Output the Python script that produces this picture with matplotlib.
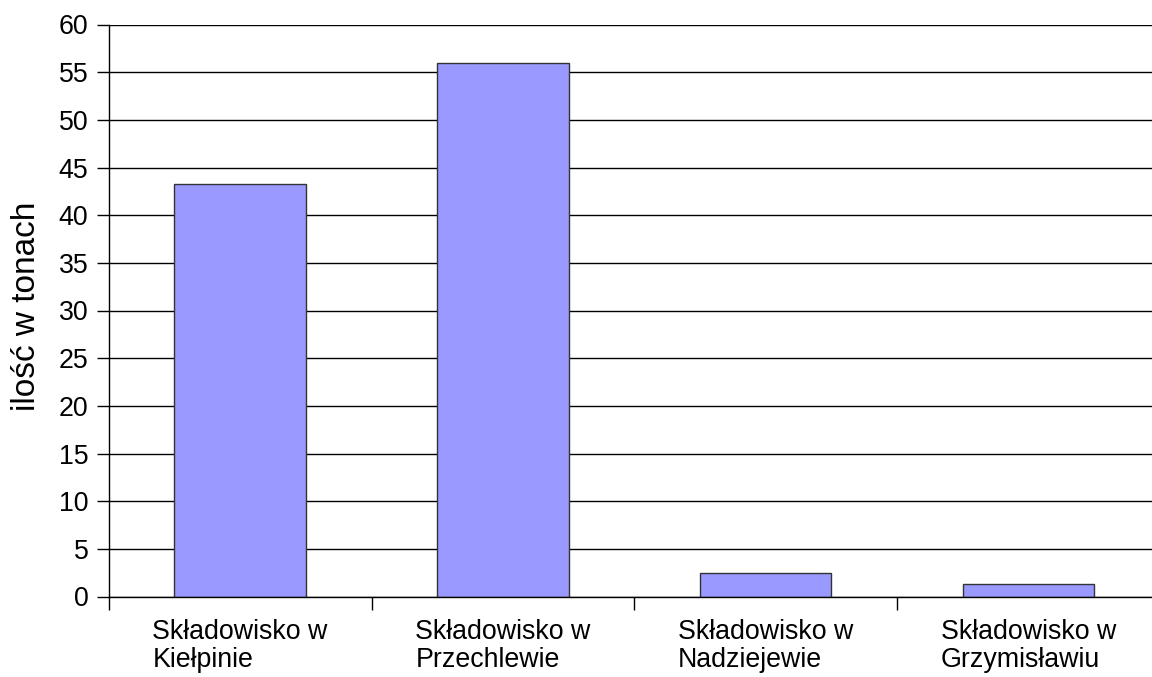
import matplotlib
matplotlib.use("Agg")
import matplotlib.pyplot as plt
import numpy as np

categories = ["Składowisko w\nKiełpinie", "Składowisko w\nPrzechlewie",
              "Składowisko w\nNadziejewie", "Składowisko w\nGrzymisławiu"]
values = [43.3, 56.0, 2.5, 1.3]
yticks = list(range(0, 61, 5))
ylabel = "ilość w tonach"

plt.rcParams['font.family'] = ['Liberation Sans', 'DejaVu Sans']

fig = plt.figure(figsize=(11.52, 6.77), dpi=100)
ax = fig.add_axes([108.7/1152, 80.5/677, (1160-108.7)/1152, (596.5-24.5)/677])

x = np.arange(len(categories))
ax.bar(x, values, width=0.5, color="#9999FF", edgecolor="#333333", linewidth=1.0, zorder=3)

ax.set_xlim(-0.5, len(categories) - 0.5)
ax.set_ylim(0, 60)
ax.set_yticks(yticks)
ax.yaxis.grid(True, color="black", linewidth=1.0, zorder=0)
ax.set_axisbelow(True)

ax.set_xticks(x)
ax.set_xticklabels(categories, fontsize=19.3, linespacing=1.1, multialignment='left')
ax.set_xticks(np.arange(-0.5, len(categories), 1.0), minor=True)
ax.tick_params(axis='x', which='major', length=0, pad=16)
ax.tick_params(axis='x', which='minor', length=9, width=1.0, direction='out', color='black')
ax.tick_params(axis='y', length=8.6, width=1.0, direction='out', pad=6, labelsize=19.3, color='black')

for s in ['top', 'right']:
    ax.spines[s].set_visible(False)
for s in ['left', 'bottom']:
    ax.spines[s].set_color('black')
    ax.spines[s].set_linewidth(1.0)
ax.spines['bottom'].set_zorder(4)

fig.text(27/1152, 1 - 306/677, ylabel, rotation=90, fontsize=24, ha='center', va='center')

fig.savefig("out.png", dpi=100)
